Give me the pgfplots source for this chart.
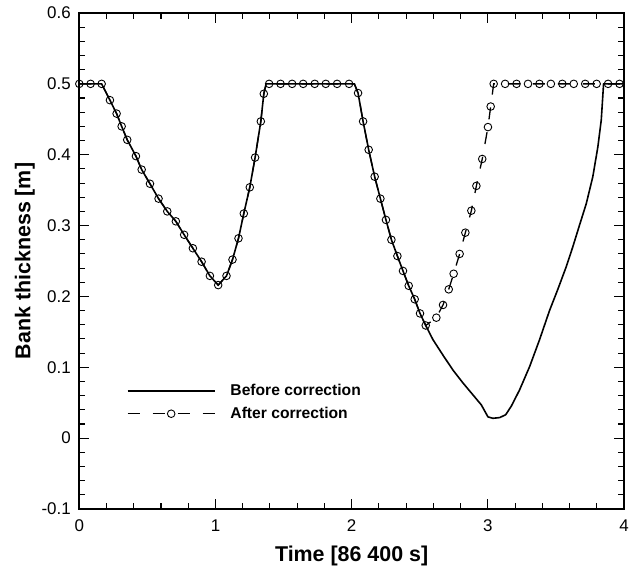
\documentclass[border=0pt]{standalone}
\usepackage{fontspec}
\setmainfont{Liberation Sans}
\usepackage{pgfplots}
\pgfplotsset{compat=1.18}

\begin{document}
\begin{tikzpicture}
\begin{axis}[
    scale only axis,
    width=544.7bp, height=496bp,
    xmin=0, xmax=4,
    ymin=-0.1, ymax=0.6,
    xtick={0,1,2,3,4},
    ytick={-0.1,0,0.1,0.2,0.3,0.4,0.5,0.6},
    yticklabels={-0.1,0,0.1,0.2,0.3,0.4,0.5,0.6},
    minor x tick num=4,
    minor y tick num=4,
    tick align=inside,
    major tick length=10bp,
    minor tick length=6bp,
    every tick/.style={black, line width=1.1bp},
    axis line style={line width=2bp},
    /pgf/number format/assume math mode=true,
    ticklabel style={font=\fontsize{17}{20}\selectfont},
    xticklabel style={yshift=-7bp},
    yticklabel style={xshift=-5bp},
    xlabel={Time [86 400 s]},
    ylabel={Bank thickness [m]},
    label style={font=\fontsize{21.5}{24}\selectfont\bfseries},
    xlabel style={yshift=-8bp},
    ylabel style={yshift=0bp},
    legend style={at={(axis cs:0.348,0.076)}, anchor=north west,
        draw=none, fill=none, inner sep=0pt, row sep=10bp, column sep=15bp,
        nodes={inner sep=0pt},
        font=\fontsize{15.7}{18}\selectfont\bfseries},
    legend cell align=left,
    legend image code/.code={
        \draw[mark repeat=2, mark phase=2, #1]
            plot coordinates {(0bp,0bp) (43.5bp,0bp) (87bp,0bp)};
    },
]

% Before correction
\addplot[black, line width=1.6bp, mark=none] coordinates {
(0,0.5)(0.164,0.5)(0.225,0.477)(0.274,0.458)(0.311,0.440)(0.352,0.421)
(0.416,0.398)(0.458,0.379)(0.519,0.359)(0.582,0.338)(0.646,0.320)
(0.709,0.306)(0.770,0.287)(0.834,0.268)(0.898,0.249)(0.959,0.229)
(1.020,0.216)(1.081,0.229)(1.125,0.252)(1.169,0.282)(1.208,0.317)
(1.252,0.354)(1.291,0.396)(1.333,0.447)(1.355,0.486)(1.372,0.5)
(2.02,0.5)(2.047,0.487)(2.084,0.447)(2.125,0.407)(2.169,0.369)
(2.211,0.338)(2.252,0.308)(2.292,0.280)(2.336,0.257)(2.377,0.236)
(2.419,0.215)(2.463,0.196)(2.502,0.176)(2.544,0.159)(2.597,0.139)
(2.671,0.117)(2.744,0.096)(2.817,0.078)(2.891,0.061)(2.952,0.047)
(3.001,0.030)(3.037,0.028)(3.087,0.029)(3.131,0.033)(3.172,0.045)
(3.233,0.068)(3.307,0.101)(3.380,0.139)(3.453,0.180)(3.514,0.210)
(3.576,0.242)(3.624,0.270)(3.674,0.301)(3.723,0.331)(3.771,0.369)
(3.808,0.411)(3.833,0.449)(3.850,0.5)(4,0.5)
};
\addlegendentry{Before correction}

% After correction: dashed line
\addplot[black, line width=1.3bp, dash pattern=on 12bp off 13bp, forget plot] coordinates {
(0,0.5)(0.164,0.5)(0.225,0.477)(0.274,0.458)(0.311,0.440)(0.352,0.421)
(0.416,0.398)(0.458,0.379)(0.519,0.359)(0.582,0.338)(0.646,0.320)
(0.709,0.306)(0.770,0.287)(0.834,0.268)(0.898,0.249)(0.959,0.229)
(1.020,0.216)(1.081,0.229)(1.125,0.252)(1.169,0.282)(1.208,0.317)
(1.252,0.354)(1.291,0.396)(1.333,0.447)(1.355,0.486)(1.372,0.5)
(2.02,0.5)(2.047,0.487)(2.084,0.447)(2.125,0.407)(2.169,0.369)
(2.211,0.338)(2.252,0.308)(2.292,0.280)(2.336,0.257)(2.377,0.236)
(2.419,0.215)(2.463,0.196)(2.502,0.176)(2.544,0.159)(2.622,0.170)
(2.671,0.188)(2.713,0.210)(2.749,0.232)(2.793,0.260)(2.835,0.290)
(2.879,0.321)(2.916,0.356)(2.959,0.394)(3.001,0.439)(3.021,0.468)
(3.043,0.5)(4,0.5)
};
% After correction: symbols
\addplot[black, only marks, mark=o, mark size=3.8bp, mark options={line width=0.9bp}, forget plot] coordinates {
(0,0.5)(0.083,0.5)(0.164,0.5)(0.225,0.477)(0.274,0.458)(0.311,0.440)
(0.352,0.421)(0.416,0.398)(0.458,0.379)(0.519,0.359)(0.582,0.338)
(0.646,0.320)(0.709,0.306)(0.770,0.287)(0.834,0.268)(0.898,0.249)
(0.959,0.229)(1.020,0.216)(1.081,0.229)(1.125,0.252)(1.169,0.282)
(1.208,0.317)(1.252,0.354)(1.291,0.396)(1.333,0.447)(1.355,0.486)
(1.394,0.5)(1.478,0.5)(1.563,0.5)(1.644,0.5)(1.729,0.5)(1.810,0.5)
(1.893,0.5)(1.981,0.5)(2.047,0.487)(2.084,0.447)(2.125,0.407)
(2.169,0.369)(2.211,0.338)(2.252,0.308)(2.292,0.280)(2.336,0.257)
(2.377,0.236)(2.419,0.215)(2.463,0.196)(2.502,0.176)(2.544,0.159)
(2.622,0.170)(2.671,0.188)(2.713,0.210)(2.749,0.232)(2.793,0.260)
(2.835,0.290)(2.879,0.321)(2.916,0.356)(2.959,0.394)(3.001,0.439)
(3.021,0.468)(3.043,0.5)(3.127,0.5)(3.211,0.5)(3.295,0.5)(3.379,0.5)
(3.463,0.5)(3.547,0.5)(3.631,0.5)(3.715,0.5)(3.799,0.5)(3.883,0.5)
(3.967,0.5)
};
\addlegendimage{black, line width=1.3bp, dash pattern=on 12bp off 13bp, mark=o, mark size=3.8bp, mark options={solid, line width=0.9bp}}
\addlegendentry{After correction}

\end{axis}
\pgfresetboundingbox
\path[use as bounding box] (-79.3bp,-59bp) rectangle (556.7bp,509bp);
\end{tikzpicture}
\end{document}
